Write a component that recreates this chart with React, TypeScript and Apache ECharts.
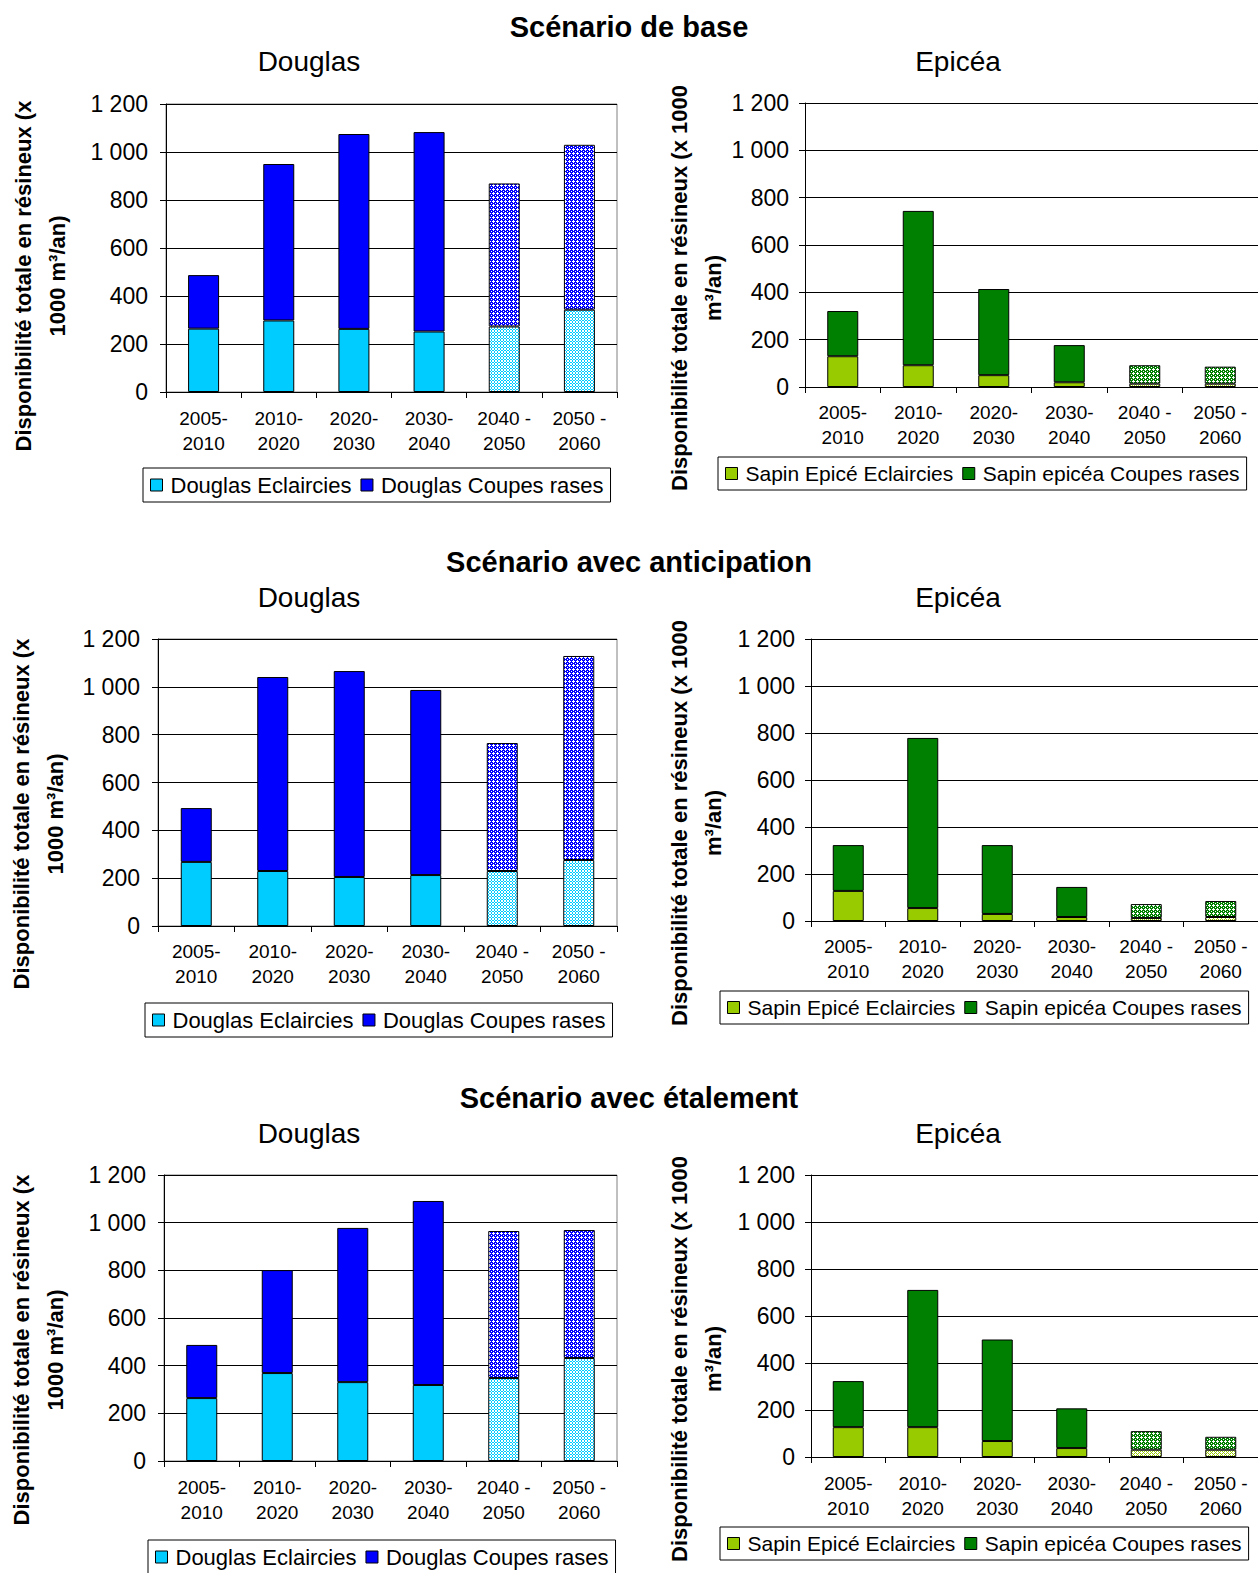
import React, { useEffect, useRef } from "react";
import * as echarts from "echarts";

// Periods on the x axis (two-line labels)
const categories = ["2005-\n2010", "2010-\n2020", "2020-\n2030", "2030-\n2040", "2040 -\n2050", "2050 -\n2060"];
// Periods from this index on are projections and drawn hatched
const projectedFrom = 4;

const yMax = 1200;
const yStep = 200;

const scenarioTitles = ["Scénario de base", "Scénario avec anticipation", "Scénario avec étalement"];
const speciesTitles = ["Douglas", "Epicéa"];
const douglasNames = ["Douglas Eclaircies", "Douglas Coupes rases"];
const epiceaNames = ["Sapin Epicé Eclaircies", "Sapin epicéa Coupes rases"];
const douglasAxisTitle = "Disponibilité totale en résineux (x\n1000 m³/an)";
const epiceaAxisTitle = "Disponibilité totale en résineux (x 1000\nm³/an)";

// Scénario de base (x 1000 m³/an)
const baseDouglasEclaircies = [264, 298, 263, 252, 273, 343];
const baseDouglasCoupes = [223, 652, 812, 831, 596, 687];
const baseEpiceaEclaircies = [130, 92, 50, 20, 14, 14];
const baseEpiceaCoupes = [191, 652, 364, 157, 78, 72];

// Scénario avec anticipation
const anticipDouglasEclaircies = [268, 230, 205, 213, 230, 276];
const anticipDouglasCoupes = [225, 811, 861, 774, 535, 853];
const anticipEpiceaEclaircies = [128, 55, 30, 17, 13, 17];
const anticipEpiceaCoupes = [195, 724, 293, 128, 59, 68];

// Scénario avec étalement
const etalDouglasEclaircies = [264, 369, 331, 319, 348, 432];
const etalDouglasCoupes = [223, 432, 647, 772, 617, 537];
const etalEpiceaEclaircies = [127, 127, 68, 38, 31, 31];
const etalEpiceaCoupes = [196, 584, 432, 169, 79, 55];

const FONT = '"Liberation Sans", Arial, sans-serif';

const COLORS = {
  douglasEcl: "#00CCFF",
  douglasCoupes: "#0000FF",
  epiceaEcl: "#99CC00",
  epiceaCoupes: "#008000",
};

function fmt(v: number): string {
  if (v >= 1000) {
    return Math.floor(v / 1000) + " " + String(v % 1000).padStart(3, "0");
  }
  return String(v);
}

// Small repeating bitmap used as a fill pattern
function tile(size: number, bg: string, fg: string, cells: number[][]) {
  const c = document.createElement("canvas");
  c.width = size;
  c.height = size;
  const ctx = c.getContext("2d")!;
  ctx.fillStyle = bg;
  ctx.fillRect(0, 0, size, size);
  ctx.fillStyle = fg;
  cells.forEach(([x, y]) => ctx.fillRect(x, y, 1, 1));
  return { image: c, repeat: "repeat" };
}

export default function App() {
  const ref = useRef<HTMLDivElement>(null);

  useEffect(() => {
    if (!ref.current) return;
    const chart = echarts.init(ref.current, null, { renderer: "svg" });

    // white dots in a diagonal lattice over the base colour
    const hatch = [
      [1, 0],
      [0, 1],
      [1, 1],
      [2, 1],
      [1, 2],
      [3, 3],
    ];
    const patterns = {
      douglasEcl: tile(3, "#ffffff", COLORS.douglasEcl, [
        [2, 0],
        [2, 1],
        [0, 2],
        [1, 2],
      ]),
      douglasCoupes: tile(4, COLORS.douglasCoupes, "#ffffff", hatch),
      epiceaEcl: tile(4, "#ffffff", COLORS.epiceaEcl, [
        [0, 1],
        [1, 2],
        [2, 1],
        [3, 0],
        [0, 3],
        [2, 3],
      ]),
      epiceaCoupes: tile(4, COLORS.epiceaCoupes, "#ffffff", hatch),
    };

    type Panel = {
      grid: { left: number; top: number; width: number; height: number };
      ecl: number[];
      coupes: number[];
      douglas: boolean;
      legend: { left: number; top: number };
      yLabelMargin: number;
      xLabelMargin: number;
    };

    const panels: Panel[] = [
      {
        grid: { left: 166, top: 104, width: 451, height: 288 },
        ecl: baseDouglasEclaircies,
        coupes: baseDouglasCoupes,
        douglas: true,
        legend: { left: 143, top: 468 },
        yLabelMargin: 18,
        xLabelMargin: 14,
      },
      {
        grid: { left: 805, top: 103, width: 453, height: 284 },
        ecl: baseEpiceaEclaircies,
        coupes: baseEpiceaCoupes,
        douglas: false,
        legend: { left: 718, top: 457 },
        yLabelMargin: 16,
        xLabelMargin: 13,
      },
      {
        grid: { left: 158, top: 639, width: 459, height: 287 },
        ecl: anticipDouglasEclaircies,
        coupes: anticipDouglasCoupes,
        douglas: true,
        legend: { left: 145, top: 1003 },
        yLabelMargin: 18,
        xLabelMargin: 13,
      },
      {
        grid: { left: 811, top: 639, width: 447, height: 282 },
        ecl: anticipEpiceaEclaircies,
        coupes: anticipEpiceaCoupes,
        douglas: false,
        legend: { left: 720, top: 991 },
        yLabelMargin: 16,
        xLabelMargin: 13,
      },
      {
        grid: { left: 164, top: 1175, width: 453, height: 286 },
        ecl: etalDouglasEclaircies,
        coupes: etalDouglasCoupes,
        douglas: true,
        legend: { left: 148, top: 1540 },
        yLabelMargin: 18,
        xLabelMargin: 14,
      },
      {
        grid: { left: 811, top: 1175, width: 447, height: 282 },
        ecl: etalEpiceaEclaircies,
        coupes: etalEpiceaCoupes,
        douglas: false,
        legend: { left: 720, top: 1527 },
        yLabelMargin: 16,
        xLabelMargin: 14,
      },
    ];

    const grids = panels.map((p) => ({
      ...p.grid,
      containLabel: false,
      show: p.douglas,
      borderColor: "#808080",
      borderWidth: 1,
      backgroundColor: "transparent",
    }));

    const xAxes = panels.map((p, i) => ({
      type: "category",
      gridIndex: i,
      data: categories,
      axisLine: { lineStyle: { color: "#000", width: 1 } },
      axisTick: { show: true, length: 6, lineStyle: { color: "#000" } },
      axisLabel: {
        interval: 0,
        fontSize: 19,
        lineHeight: 25,
        color: "#000",
        fontFamily: FONT,
        margin: p.xLabelMargin,
      },
      splitLine: { show: false },
    }));

    const yAxes = panels.map((p, i) => ({
      type: "value",
      gridIndex: i,
      min: 0,
      max: yMax,
      interval: yStep,
      axisLine: { show: true, lineStyle: { color: "#000", width: 1 } },
      axisTick: { show: true, length: 6, lineStyle: { color: "#000" } },
      axisLabel: {
        fontSize: 23,
        color: "#000",
        fontFamily: FONT,
        margin: p.yLabelMargin,
        formatter: (v: number) => fmt(v),
      },
      splitLine: { show: true, lineStyle: { color: "#000", width: 1 } },
    }));

    const series: any[] = [];
    panels.forEach((p, i) => {
      const names = p.douglas ? douglasNames : epiceaNames;
      const eclColor = p.douglas ? COLORS.douglasEcl : COLORS.epiceaEcl;
      const coupesColor = p.douglas ? COLORS.douglasCoupes : COLORS.epiceaCoupes;
      const eclPattern = p.douglas ? patterns.douglasEcl : patterns.epiceaEcl;
      const coupesPattern = p.douglas ? patterns.douglasCoupes : patterns.epiceaCoupes;
      const toData = (vals: number[], pattern: any) =>
        vals.map((v, j) => (j >= projectedFrom ? { value: v, itemStyle: { color: pattern } } : v));
      series.push({
        type: "bar",
        name: names[0],
        xAxisIndex: i,
        yAxisIndex: i,
        stack: "s" + i,
        barWidth: 31,
        itemStyle: { color: eclColor, borderColor: "#000", borderWidth: 1 },
        data: toData(p.ecl, eclPattern),
      });
      series.push({
        type: "bar",
        name: names[1],
        xAxisIndex: i,
        yAxisIndex: i,
        stack: "s" + i,
        barWidth: 31,
        itemStyle: { color: coupesColor, borderColor: "#000", borderWidth: 1 },
        data: toData(p.coupes, coupesPattern),
      });
    });

    const legends = panels.map((p) => ({
      left: p.legend.left,
      top: p.legend.top,
      orient: "horizontal",
      data: p.douglas ? douglasNames : epiceaNames,
      icon: "rect",
      itemWidth: 12,
      itemHeight: 12,
      itemGap: 9,
      borderColor: "#000",
      borderWidth: 1,
      padding: [6, 7, 6, 7],
      selectedMode: false,
      itemStyle: { borderColor: "#000", borderWidth: 1 },
      textStyle: {
        fontSize: p.douglas ? 22 : 21,
        color: "#000",
        fontFamily: FONT,
        padding: [0, 0, 0, 3],
      },
    }));

    const rowTitleY = [27, 562, 1098];
    const rowSubtitleY = [61, 597, 1133];
    const speciesX = [309, 958];
    const axisTitleCenter = [
      { x: 40, y: 276, text: douglasAxisTitle },
      { x: 696, y: 288, text: epiceaAxisTitle },
      { x: 38, y: 814, text: douglasAxisTitle },
      { x: 696, y: 823, text: epiceaAxisTitle },
      { x: 38, y: 1350, text: douglasAxisTitle },
      { x: 696, y: 1359, text: epiceaAxisTitle },
    ];

    const graphics: any[] = [];
    scenarioTitles.forEach((t, r) => {
      graphics.push({
        type: "text",
        x: 629,
        y: rowTitleY[r],
        style: {
          text: t,
          fontSize: 29,
          fontWeight: "bold",
          fontFamily: FONT,
          fill: "#000",
          align: "center",
          verticalAlign: "middle",
        },
      });
      speciesTitles.forEach((s, c) => {
        graphics.push({
          type: "text",
          x: speciesX[c],
          y: rowSubtitleY[r],
          style: {
            text: s,
            fontSize: 28,
            fontFamily: FONT,
            fill: "#000",
            align: "center",
            verticalAlign: "middle",
          },
        });
      });
    });
    axisTitleCenter.forEach((a) => {
      graphics.push({
        type: "text",
        x: a.x,
        y: a.y,
        rotation: Math.PI / 2,
        style: {
          text: a.text,
          fontSize: 22,
          fontWeight: "bold",
          fontFamily: FONT,
          lineHeight: 34,
          fill: "#000",
          align: "center",
          verticalAlign: "middle",
        },
      });
    });

    chart.setOption({
      animation: false,
      backgroundColor: "#ffffff",
      textStyle: { fontFamily: FONT },
      grid: grids,
      xAxis: xAxes,
      yAxis: yAxes,
      legend: legends,
      series,
      graphic: graphics,
    });

    return () => chart.dispose();
  }, []);

  return (
    <div
      ref={ref}
      style={{ position: "absolute", left: 0, top: 0, width: 1258, height: 1573 }}
    />
  );
}
